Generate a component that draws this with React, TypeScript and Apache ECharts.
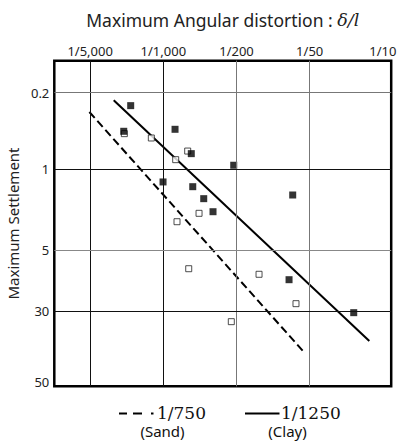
import React, { useEffect, useRef } from "react";
import * as echarts from "echarts";

// Axis ticks (positions are ordinal positions along each axis of the diagram)
const xTickLabels = ["1/5,000", "1/1,000", "1/200", "1/50", "1/10"];
const xTickPos = [0, 1, 2, 3, 4];
const yTickLabels = ["0.2", "1", "5", "30", "50"];
const yTickPos = [0, 1, 2.058, 2.861, 3.786];
const xGridPos = [0, 1, 2, 3];
const yGridPos = [0, 1, 2.058, 2.861];
const xGridColors = ["#111", "#111", "#777", "#777"];
const yGridColors = ["#777", "#111", "#888", "#111"];

// Data points: [angular distortion position, settlement position]
const clayPoints: [number, number][] = [
  [0.554, 0.17],
  [0.459, 0.506],
  [1.16, 0.48],
  [1.382, 0.799],
  [0.996, 1.17],
  [1.402, 1.232],
  [1.552, 1.389],
  [1.679, 1.56],
  [1.962, 0.951],
  [2.768, 1.341],
  [2.718, 2.451],
  [3.602, 2.883],
];
const sandPoints: [number, number][] = [
  [0.467, 0.537],
  [0.836, 0.594],
  [1.333, 0.765],
  [1.169, 0.878],
  [1.488, 1.581],
  [1.187, 1.691],
  [1.347, 2.307],
  [2.308, 2.38],
  [2.813, 2.765],
  [1.929, 3.001],
];
const clayLine: [number, number][] = [
  [0.322, 0.1],
  [3.815, 3.254],
];
const sandLine: [number, number][] = [
  [-0.011, 0.253],
  [2.936, 3.415],
];

const X_MIN = -0.49;
const X_MAX = 4.114;
const Y_MIN = -0.419;
const Y_MAX = 3.848;

export default function App() {
  const ref = useRef<HTMLDivElement>(null);
  useEffect(() => {
    if (!ref.current) return;
    const chart = echarts.init(ref.current, null, { renderer: "svg" });
    const option: any = {
      animation: false,
      grid: {
        left: 54.3,
        right: 12.8,
        top: 60.7,
        bottom: 55.7,
        show: true,
        containLabel: false,
        outerBoundsMode: "none",
        borderColor: "#000",
        borderWidth: 2.5,
        backgroundColor: "transparent",
      },
      xAxis: {
        type: "value",
        position: "top",
        min: X_MIN,
        max: X_MAX,
        name: "{a|Maximum Angular distortion : }{b|δ/l}",
        nameLocation: "middle",
        nameGap: 32,
        nameTextStyle: {
          rich: {
            a: { fontFamily: "Noto Sans", fontSize: 17.5, color: "#222" },
            b: { fontFamily: "DejaVu Serif", fontStyle: "italic", fontSize: 17.5, color: "#222" },
          },
        },
        axisLine: { show: false },
        axisTick: { show: false },
        splitLine: { show: false },
        axisLabel: {
          customValues: xTickPos,
          formatter: (v: number) => {
            const i = xTickPos.findIndex((p) => Math.abs(p - v) < 1e-6);
            return i >= 0 ? xTickLabels[i] : "";
          },
          fontFamily: "Noto Sans",
          fontSize: 13,
          color: "#222",
          margin: 3,
        },
      },
      yAxis: {
        type: "value",
        inverse: true,
        min: Y_MIN,
        max: Y_MAX,
        name: "Maximum Settlement",
        nameLocation: "middle",
        nameGap: 32,
        nameRotate: 90,
        nameTextStyle: { fontFamily: "Noto Sans", fontSize: 15, color: "#222" },
        axisLine: { show: false },
        axisTick: { show: false },
        splitLine: { show: false },
        axisLabel: {
          customValues: yTickPos,
          formatter: (v: number) => {
            const i = yTickPos.findIndex((p) => Math.abs(p - v) < 1e-6);
            return i >= 0 ? yTickLabels[i] : "";
          },
          fontFamily: "Noto Sans",
          fontSize: 13,
          color: "#222",
          margin: 5,
        },
      },
      series: [
        {
          type: "scatter",
          name: "grid",
          data: [],
          z: 1,
          silent: true,
          markLine: {
            silent: true,
            symbol: "none",
            label: { show: false },
            animation: false,
            data: [
              ...xGridPos.map((p, i) => ({ xAxis: p, lineStyle: { color: xGridColors[i], width: 1, type: "solid" } })),
              ...yGridPos.map((p, i) => ({ yAxis: p, lineStyle: { color: yGridColors[i], width: 1, type: "solid" } })),
            ],
          },
        },
        {
          type: "line",
          name: "1/750 (Sand)",
          data: sandLine,
          symbol: "none",
          z: 2,
          lineStyle: { color: "#000", width: 2, type: [8, 4] },
        },
        {
          type: "line",
          name: "1/1250 (Clay)",
          data: clayLine,
          symbol: "none",
          z: 2,
          lineStyle: { color: "#000", width: 2 },
        },
        {
          type: "scatter",
          name: "Sand",
          data: sandPoints,
          symbol: "rect",
          symbolSize: 6,
          z: 3,
          itemStyle: { color: "#fff", borderColor: "#222", borderWidth: 1 },
        },
        {
          type: "scatter",
          name: "Clay",
          data: clayPoints,
          symbol: "rect",
          symbolSize: 7,
          z: 4,
          itemStyle: { color: "#000" },
        },
      ],
      graphic: [
        { type: "line", shape: { x1: 119, y1: 413.5, x2: 127, y2: 413.5 }, style: { stroke: "#000", lineWidth: 2 } },
        { type: "line", shape: { x1: 133, y1: 413.5, x2: 142, y2: 413.5 }, style: { stroke: "#000", lineWidth: 2 } },
        { type: "line", shape: { x1: 151, y1: 413.5, x2: 153.5, y2: 413.5 }, style: { stroke: "#000", lineWidth: 2 } },
        {
          type: "text",
          x: 157,
          y: 412.5,
          style: { text: "1/750", fontFamily: "DejaVu Serif", fontSize: 17, fill: "#111", verticalAlign: "middle" },
        },
        {
          type: "text",
          x: 162.5,
          y: 430.5,
          style: { text: "(Sand)", fontFamily: "Noto Sans", fontSize: 15, fill: "#111", align: "center", verticalAlign: "middle" },
        },
        { type: "line", shape: { x1: 245, y1: 413.5, x2: 279.5, y2: 413.5 }, style: { stroke: "#000", lineWidth: 2 } },
        {
          type: "text",
          x: 281,
          y: 412.5,
          style: { text: "1/1250", fontFamily: "DejaVu Serif", fontSize: 17, fill: "#111", verticalAlign: "middle" },
        },
        {
          type: "text",
          x: 287.5,
          y: 430.5,
          style: { text: "(Clay)", fontFamily: "Noto Sans", fontSize: 15, fill: "#111", align: "center", verticalAlign: "middle" },
        },
      ],
    };
    chart.setOption(option);
    return () => chart.dispose();
  }, []);
  return <div ref={ref} style={{ width: 404, height: 442, position: "absolute", left: 0, top: 0 }} />;
}
